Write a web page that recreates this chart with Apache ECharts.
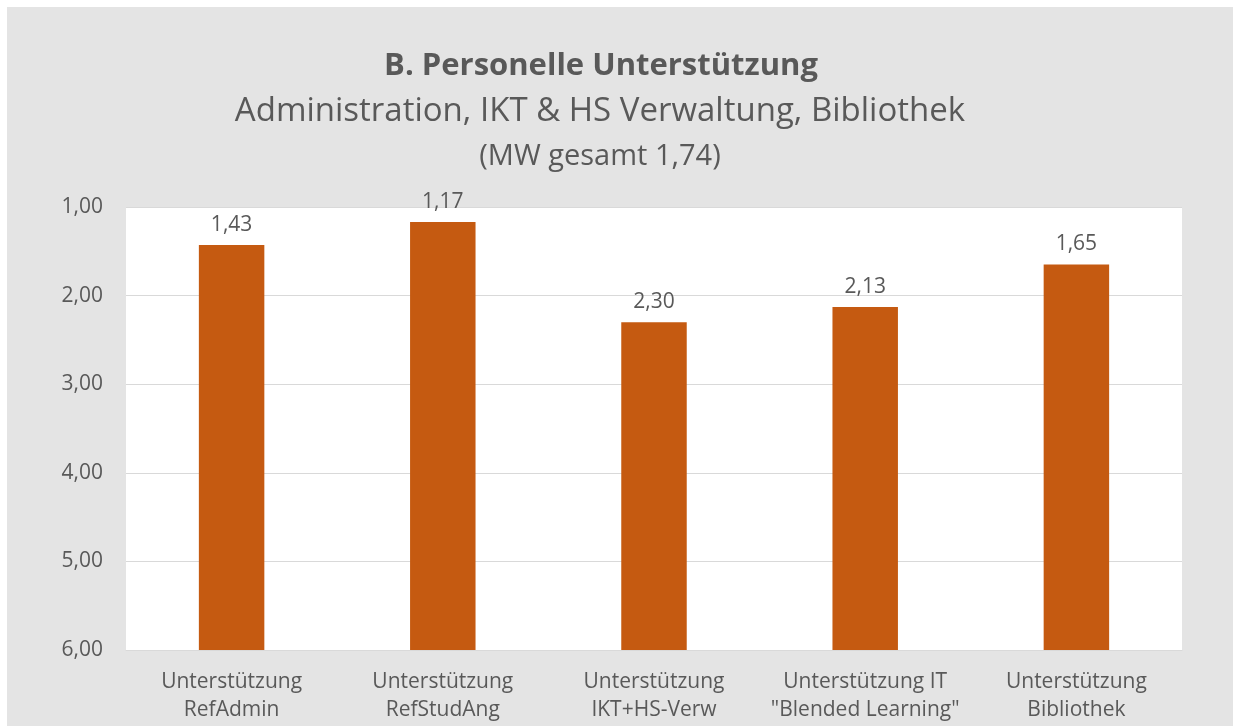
<!DOCTYPE html>
<html>
<head>
<meta charset="utf-8">
<script src="https://cdn.jsdelivr.net/npm/echarts@6/dist/echarts.min.js"></script>
<style>
  html, body { margin: 0; padding: 0; background: #ffffff; }
  #chart { position: absolute; left: 7px; top: 7px; width: 1226px; height: 719px; }
</style>
</head>
<body>
<div id="chart"></div>
<script>
var categories = [
  'Unterstützung\nRefAdmin',
  'Unterstützung\nRefStudAng',
  'Unterstützung\nIKT+HS-Verw',
  'Unterstützung IT\n"Blended Learning"',
  'Unterstützung\nBibliothek'
];
var means = [1.43, 1.17, 2.30, 2.13, 1.65];
var yTicks = [1, 2, 3, 4, 5, 6];

var textColor = '#595959';
var barColor = '#c55a11';
var font = '"Open Sans", Lato, sans-serif';

function comma(v) {
  return v.toFixed(2).replace('.', ',');
}

var chart = echarts.init(document.getElementById('chart'));

chart.setOption({
  backgroundColor: '#e4e4e4',
  animation: false,
  title: [
    {
      text: 'B. Personelle Unterstützung',
      left: 589, top: 39, textAlign: 'center',
      textStyle: { fontFamily: font, fontSize: 31, fontWeight: 'bold', color: textColor }
    },
    {
      text: 'Administration, IKT & HS Verwaltung, Bibliothek',
      left: 588, top: 83, textAlign: 'center',
      textStyle: { fontFamily: font, fontSize: 33, fontWeight: 'normal', color: textColor }
    },
    {
      text: '(MW gesamt 1,74)',
      left: 588, top: 130, textAlign: 'center',
      textStyle: { fontFamily: font, fontSize: 29, fontWeight: 'normal', color: textColor }
    }
  ],
  grid: {
    left: 119, right: 51, top: 200, bottom: 76,
    show: true, backgroundColor: '#ffffff', borderWidth: 0
  },
  xAxis: {
    type: 'category',
    data: categories,
    axisLine: { show: true, lineStyle: { color: '#d9d9d9', width: 1 } },
    axisTick: { show: false },
    axisLabel: {
      interval: 0, margin: 18, lineHeight: 28,
      fontFamily: font, fontSize: 21, color: textColor
    }
  },
  yAxis: {
    type: 'value',
    inverse: true,
    min: yTicks[0],
    max: yTicks[yTicks.length - 1],
    interval: 1,
    axisLine: { show: false },
    axisTick: { show: false },
    splitLine: { lineStyle: { color: '#d9d9d9', width: 1 } },
    axisLabel: {
      margin: 23, fontFamily: font, fontSize: 21, color: textColor,
      formatter: function (v) { return comma(v); }
    }
  },
  series: [{
    type: 'custom',
    data: means.map(function (v, i) { return [i, v]; }),
    renderItem: function (params, api) {
      var top = api.coord([api.value(0), api.value(1)]);
      var base = api.coord([api.value(0), yTicks[yTicks.length - 1]]);
      var w = api.size([1, 0])[0] * 0.31;
      return {
        type: 'rect',
        shape: { x: top[0] - w / 2, y: top[1], width: w, height: base[1] - top[1] },
        style: { fill: barColor },
        textContent: {
          type: 'text',
          style: {
            text: comma(api.value(1)),
            fill: textColor,
            font: '21px ' + font
          }
        },
        textConfig: { position: 'top', distance: 10 }
      };
    }
  }]
});
</script>
</body>
</html>
